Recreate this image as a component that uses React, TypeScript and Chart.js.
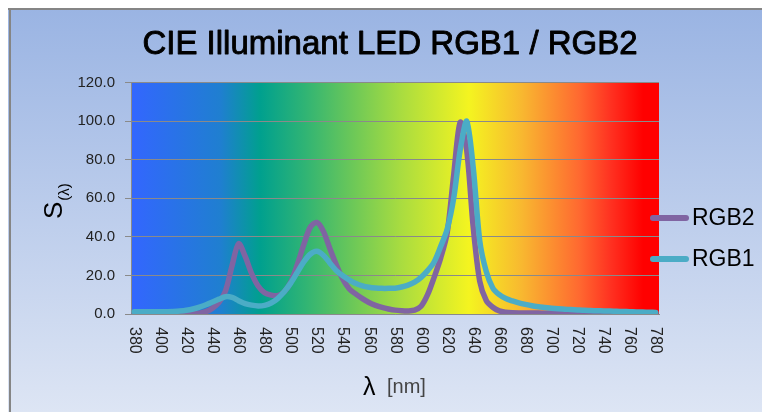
import { useEffect, useRef } from 'react';
import { Chart, registerables } from 'chart.js';

Chart.register(...registerables);

const wavelengths = [
  380, 385, 390, 395, 400, 405, 410, 415, 420, 425,
  430, 435, 440, 445, 450, 455, 460, 465, 470, 475,
  480, 485, 490, 495, 500, 505, 510, 515, 520, 525,
  530, 535, 540, 545, 550, 555, 560, 565, 570, 575,
  580, 585, 590, 595, 600, 605, 610, 615, 620, 625,
  630, 635, 640, 645, 650, 655, 660, 665, 670, 675,
  680, 685, 690, 695, 700, 705, 710, 715, 720, 725,
  730, 735, 740, 745, 750, 755, 760, 765, 770, 775,
  780,
];

const rgb1 = [
  1.2, 1.2, 1.2, 1.2, 1.2, 1.2, 1.3, 1.5, 1.9, 2.6,
  3.6, 4.8, 6.2, 7.7, 9.0, 8.6, 6.9, 5.4, 4.6, 4.2,
  4.5, 5.7, 8.0, 11.5, 16.0, 21.5, 27.0, 31.0, 32.5, 30.5,
  26.5, 22.5, 19.8, 17.6, 15.8, 14.6, 13.9, 13.5, 13.3, 13.3,
  13.4, 14.0, 15.0, 16.5, 19.0, 22.5, 27.0, 35.0, 44.0, 60.0,
  85.0, 100.0, 76.0, 38.0, 22.0, 13.5, 10.0, 8.0, 6.8, 5.8,
  5.0, 4.3, 3.8, 3.4, 3.0, 2.7, 2.5, 2.3, 2.1, 1.9,
  1.8, 1.7, 1.6, 1.5, 1.4, 1.3, 1.2, 1.1, 1.0, 0.9,
  0.8,
];

const rgb2 = [
  0, 0, 0, 0, 0, 0, 0, 0, 0, 0.1,
  0.4, 1.2, 3.0, 6.0, 12.0, 25.0, 36.5, 30.0, 21.0, 14.5,
  11.0, 9.8, 9.5, 11.5, 16.5, 25.5, 36.0, 45.0, 47.5, 43.0,
  34.0, 25.5, 18.0, 13.0, 10.3, 8.0, 6.0, 4.5, 3.4, 2.6,
  2.0, 1.7, 1.6, 2.0, 4.0, 10.0, 19.0, 29.0, 42.0, 72.0,
  99.5, 85.0, 45.0, 17.0, 7.0, 3.5, 1.6, 0.9, 0.6, 0.5,
  0.5, 0.5, 0.5, 0.4, 0.4, 0.3, 0.3, 0.3, 0.3, 0.3,
  0.2, 0.2, 0.2, 0.2, 0.2, 0.1, 0.1, 0.1, 0.1, 0.1,
  0.1,
];

const xTickLabels = [
  380, 400, 420, 440, 460, 480, 500, 520, 540, 560,
  580, 600, 620, 640, 660, 680, 700, 720, 740, 760, 780,
];

const TITLE = 'CIE Illuminant LED RGB1 / RGB2';
const SERIES_NAMES = ['RGB2', 'RGB1'];
const PURPLE = '#8064a2';
const AQUA = '#4bacc6';

const spectrumStops: [number, string][] = [
  [0, '#3366ff'],
  [0.17, '#1f7fd0'],
  [0.245, '#00a08e'],
  [0.33, '#30b474'],
  [0.42, '#6cc858'],
  [0.51, '#a8dc40'],
  [0.64, '#f4f420'],
  [0.74, '#f8b830'],
  [0.85, '#ff6830'],
  [0.91, '#ff3020'],
  [0.97, '#ff0000'],
  [1, '#ff0000'],
];

const decor = {
  id: 'decor',
  beforeDraw(chart: any) {
    const { ctx, width, height, chartArea: a } = chart;
    ctx.save();
    const bg = ctx.createLinearGradient(0, 0, 0, height);
    bg.addColorStop(0, '#9ab4e3');
    bg.addColorStop(1, '#dde5f4');
    ctx.fillStyle = bg;
    ctx.fillRect(0, 0, width, height);
    ctx.fillStyle = '#858585';
    ctx.fillRect(0, 0, width, 2);
    ctx.fillRect(1, 0, 2, height);
    const g = ctx.createLinearGradient(a.left, 0, a.right, 0);
    spectrumStops.forEach(([p, c]) => g.addColorStop(p, c));
    ctx.fillStyle = g;
    ctx.fillRect(a.left, a.top, a.right - a.left, a.bottom - a.top);
    ctx.restore();
  },
  afterDraw(chart: any) {
    const { ctx, chartArea: a } = chart;
    const xs = chart.scales.x;
    ctx.save();
    // title
    ctx.fillStyle = '#000';
    ctx.strokeStyle = '#000';
    ctx.lineWidth = 0.9;
    ctx.lineJoin = 'round';
    ctx.font = '33px "Liberation Sans"';
    ctx.textAlign = 'center';
    ctx.textBaseline = 'alphabetic';
    ctx.fillText(TITLE, 382, 46);
    ctx.strokeText(TITLE, 382, 46);

    // x tick labels, rotated clockwise
    ctx.font = '16px "Liberation Sans"';
    ctx.fillStyle = '#222';
    xTickLabels.forEach((w) => {
      const idx = wavelengths.indexOf(w);
      const px = xs.getPixelForValue(idx);
      ctx.save();
      ctx.translate(px, a.bottom + 13);
      ctx.rotate(Math.PI / 2);
      ctx.textAlign = 'left';
      ctx.textBaseline = 'middle';
      ctx.fillText(String(w), 0, 0);
      ctx.restore();
    });

    // y axis title S(λ)
    ctx.save();
    ctx.translate(54, 211);
    ctx.rotate(-Math.PI / 2);
    ctx.textAlign = 'left';
    ctx.textBaseline = 'alphabetic';
    ctx.fillStyle = '#000';
    ctx.font = '26px "Liberation Sans"';
    ctx.fillText('S', 0, 0);
    const sw = ctx.measureText('S').width;
    ctx.font = '15px "Liberation Sans"';
    ctx.fillText('(λ)', sw + 1, 7);
    ctx.restore();

    // x axis title λ [nm]
    ctx.textAlign = 'left';
    ctx.textBaseline = 'alphabetic';
    ctx.fillStyle = '#000';
    ctx.font = '25px "Liberation Sans"';
    ctx.fillText('λ', 355, 387);
    ctx.fillStyle = '#444';
    ctx.font = '20px "Liberation Sans"';
    ctx.fillText('[nm]', 379, 385);

    // legend
    const items = [
      { name: SERIES_NAMES[0], color: PURPLE, y: 210 },
      { name: SERIES_NAMES[1], color: AQUA, y: 251 },
    ];
    items.forEach((it) => {
      ctx.strokeStyle = it.color;
      ctx.lineWidth = 6;
      ctx.lineCap = 'round';
      ctx.beginPath();
      ctx.moveTo(645, it.y);
      ctx.lineTo(678, it.y);
      ctx.stroke();
      ctx.fillStyle = '#000';
      ctx.font = '23px "Liberation Sans"';
      ctx.textBaseline = 'middle';
      ctx.fillText(it.name, 684, it.y + 1);
    });
    ctx.restore();
  },
};

export default function App() {
  const ref = useRef<HTMLCanvasElement | null>(null);
  useEffect(() => {
    document.documentElement.style.overflow = 'hidden';
    document.body.style.overflow = 'hidden';
    const canvas = ref.current;
    if (!canvas) return;
    const chart = new Chart(canvas, {
      type: 'line',
      data: {
        labels: wavelengths.map(String),
        datasets: [
          {
            label: SERIES_NAMES[1],
            data: rgb1,
            borderColor: AQUA,
            borderWidth: 5.5,
            pointRadius: 0,
            tension: 0.3,
            fill: false,
            borderCapStyle: 'round',
            borderJoinStyle: 'round',
          },
          {
            label: SERIES_NAMES[0],
            data: rgb2,
            borderColor: PURPLE,
            borderWidth: 5.5,
            pointRadius: 0,
            tension: 0.3,
            fill: false,
            borderCapStyle: 'round',
            borderJoinStyle: 'round',
          },
        ],
      },
      options: {
        animation: false,
        responsive: false,
        maintainAspectRatio: false,
        devicePixelRatio: 1,
        layout: { padding: { top: 74.7, right: 103, left: 0, bottom: 0 } },
        plugins: {
          legend: { display: false },
          title: { display: false },
          tooltip: { enabled: false },
        },
        scales: {
          x: {
            type: 'category',
            offset: true,
            grid: { display: false },
            border: { display: true, color: '#8a8a8a', width: 1 },
            ticks: { display: false },
            afterFit: (s: any) => {
              s.height = 98;
            },
          },
          y: {
            min: 0,
            max: 120,
            ticks: {
              stepSize: 20,
              padding: 10,
              color: '#222',
              font: { family: 'Liberation Sans', size: 15 },
              callback: (v: any) => Number(v).toFixed(1),
            },
            grid: { color: '#8a8a8a', lineWidth: 1, tickLength: 6, drawTicks: true },
            border: { display: true, color: '#8a8a8a', width: 1 },
            afterFit: (s: any) => {
              s.width = 123;
            },
          },
        },
      },
      plugins: [decor],
    });
    return () => chart.destroy();
  }, []);
  return (
    <div style={{ position: 'fixed', left: 8, top: 8, width: 754, height: 404, overflow: 'hidden' }}>
      <canvas ref={ref} width={754} height={404} style={{ display: 'block', width: 754, height: 404 }} />
    </div>
  );
}
